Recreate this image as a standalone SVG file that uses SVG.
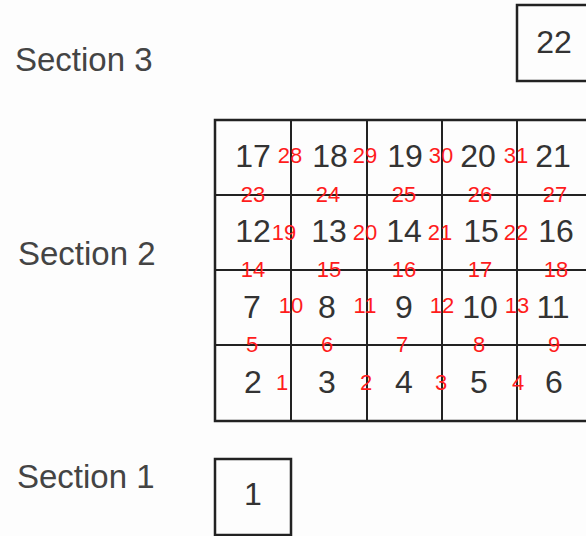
<svg xmlns="http://www.w3.org/2000/svg" width="586" height="536" viewBox="0 0 586 536">
<style>
.bg{fill:#fdfdfd}
.cell{fill:none;stroke:#222;stroke-width:2}
.box{fill:none;stroke:#222;stroke-width:2.5}
.num{font-family:"Liberation Sans",Arial,sans-serif;font-size:32px;fill:#333;text-anchor:middle}
.sec{font-family:"Liberation Sans",Arial,sans-serif;font-size:33px;fill:#444}
.lbl{font-family:"Liberation Sans",Arial,sans-serif;font-size:22px;fill:#ff1c1c;text-anchor:middle}
</style>
<rect class="bg" x="0" y="0" width="586" height="536"/>
<text class="sec" x="15" y="71">Section 3</text>
<text class="sec" x="18" y="265">Section 2</text>
<text class="sec" x="17" y="488">Section 1</text>
<g id="n22"><rect class="box" x="517" y="5" width="76" height="76"/><text class="num" x="554" y="53">22</text></g>
<g id="n1"><rect class="box" x="215" y="459" width="76" height="76"/><text class="num" x="253" y="505">1</text></g>
<g id="n17"><rect class="cell" x="215" y="120" width="76" height="75"/><text class="num" x="253" y="167">17</text></g>
<g id="n18"><rect class="cell" x="291" y="120" width="76" height="75"/><text class="num" x="330" y="167">18</text></g>
<g id="n19"><rect class="cell" x="367" y="120" width="75" height="75"/><text class="num" x="405" y="167">19</text></g>
<g id="n20"><rect class="cell" x="442" y="120" width="75" height="75"/><text class="num" x="478" y="167">20</text></g>
<g id="n21"><rect class="cell" x="517" y="120" width="76" height="75"/><text class="num" x="553" y="167">21</text></g>
<g id="n12"><rect class="cell" x="215" y="195" width="76" height="75"/><text class="num" x="253" y="242">12</text></g>
<g id="n13"><rect class="cell" x="291" y="195" width="76" height="75"/><text class="num" x="329" y="242">13</text></g>
<g id="n14"><rect class="cell" x="367" y="195" width="75" height="75"/><text class="num" x="404" y="242">14</text></g>
<g id="n15"><rect class="cell" x="442" y="195" width="75" height="75"/><text class="num" x="481" y="242">15</text></g>
<g id="n16"><rect class="cell" x="517" y="195" width="76" height="75"/><text class="num" x="556" y="242">16</text></g>
<g id="n7"><rect class="cell" x="215" y="270" width="76" height="75"/><text class="num" x="252" y="318">7</text></g>
<g id="n8"><rect class="cell" x="291" y="270" width="76" height="75"/><text class="num" x="327" y="318">8</text></g>
<g id="n9"><rect class="cell" x="367" y="270" width="75" height="75"/><text class="num" x="404" y="318">9</text></g>
<g id="n10"><rect class="cell" x="442" y="270" width="75" height="75"/><text class="num" x="480" y="318">10</text></g>
<g id="n11"><rect class="cell" x="517" y="270" width="76" height="75"/><text class="num" x="553" y="318">11</text></g>
<g id="n2"><rect class="cell" x="215" y="345" width="76" height="76"/><text class="num" x="253" y="393">2</text></g>
<g id="n3"><rect class="cell" x="291" y="345" width="76" height="76"/><text class="num" x="327" y="393">3</text></g>
<g id="n4"><rect class="cell" x="367" y="345" width="75" height="76"/><text class="num" x="404" y="393">4</text></g>
<g id="n5"><rect class="cell" x="442" y="345" width="75" height="76"/><text class="num" x="479" y="393">5</text></g>
<g id="n6"><rect class="cell" x="517" y="345" width="76" height="76"/><text class="num" x="554" y="393">6</text></g>
<rect class="box" x="215" y="120" width="378" height="301"/>
<g id="connectors">
<text class="lbl" x="290" y="163">28</text>
<text class="lbl" x="365" y="163">29</text>
<text class="lbl" x="441" y="163">30</text>
<text class="lbl" x="516" y="163">31</text>
<text class="lbl" x="253" y="202">23</text>
<text class="lbl" x="328" y="202">24</text>
<text class="lbl" x="404" y="202">25</text>
<text class="lbl" x="480" y="202">26</text>
<text class="lbl" x="555" y="202">27</text>
<text class="lbl" x="284" y="240">19</text>
<text class="lbl" x="365" y="240">20</text>
<text class="lbl" x="440" y="240">21</text>
<text class="lbl" x="516" y="240">22</text>
<text class="lbl" x="253" y="277">14</text>
<text class="lbl" x="329" y="277">15</text>
<text class="lbl" x="404" y="277">16</text>
<text class="lbl" x="480" y="277">17</text>
<text class="lbl" x="556" y="277">18</text>
<text class="lbl" x="291" y="313">10</text>
<text class="lbl" x="365" y="313">11</text>
<text class="lbl" x="442" y="313">12</text>
<text class="lbl" x="517" y="313">13</text>
<text class="lbl" x="252" y="352">5</text>
<text class="lbl" x="327" y="352">6</text>
<text class="lbl" x="402" y="352">7</text>
<text class="lbl" x="479" y="352">8</text>
<text class="lbl" x="554" y="352">9</text>
<text class="lbl" x="282" y="390">1</text>
<text class="lbl" x="366" y="390">2</text>
<text class="lbl" x="441" y="390">3</text>
<text class="lbl" x="518" y="390">4</text>
</g>
</svg>
